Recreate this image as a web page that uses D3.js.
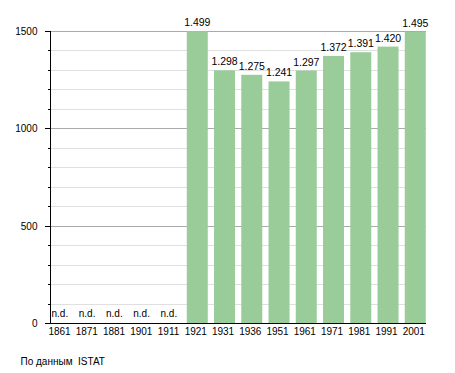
<!DOCTYPE html>
<html>
<head>
<meta charset="utf-8">
<script src="https://cdn.jsdelivr.net/npm/d3@7"></script>
<style>
  body { margin: 0; background: #fff; }
  text { font-family: "Liberation Sans", Arial, sans-serif; font-size: 10px; fill: #000; }
</style>
</head>
<body>
<script>
// Years on the x axis
const years = ["1861", "1871", "1881", "1901", "1911", "1921", "1931",
               "1936", "1951", "1961", "1971", "1981", "1991", "2001"];
// Population (null = n.d.)
const population = [null, null, null, null, null, 1499, 1298,
                    1275, 1241, 1297, 1372, 1391, 1420, 1495];
const majorTicks = [0, 500, 1000, 1500];
const minorTicks = d3.range(0, 1501, 100);
const sourceNote = "По данным  ISTAT";

const width = 455, height = 373;
const plotLeft = 50, plotRight = 426, plotTop = 31, plotBottom = 323;

const svg = d3.select("body").append("svg")
  .attr("width", width)
  .attr("height", height);

const y = d3.scaleLinear().domain([0, 1500]).range([plotBottom, plotTop]);
const x = d3.scaleBand().domain(years)
  .range([47.4, 428.9])
  .paddingInner(0.23)
  .paddingOuter(0.115);

const fmt = v => d3.format(",")(v).replace(/,/g, ".");

// gridlines
svg.append("g").selectAll("line")
  .data(minorTicks.filter(v => v > 0))
  .enter().append("line")
  .attr("x1", plotLeft).attr("x2", plotRight)
  .attr("y1", d => Math.round(y(d)) + 0.5)
  .attr("y2", d => Math.round(y(d)) + 0.5)
  .attr("stroke", d => d % 500 === 0 ? "#aaa" : "#e0e0e0");

// bars
const rows = years.map((yr, i) => ({ year: yr, value: population[i] }));
svg.append("g").selectAll("rect")
  .data(rows.filter(d => d.value !== null))
  .enter().append("rect")
  .attr("x", d => x(d.year))
  .attr("width", x.bandwidth())
  .attr("y", d => y(d.value))
  .attr("height", d => y(0) - y(d.value))
  .attr("fill", "#99cc99");

// value labels
svg.append("g").selectAll("text")
  .data(rows)
  .enter().append("text")
  .attr("x", d => d.value === null ? x(d.year) + 1 : x(d.year) + x.bandwidth() / 2)
  .attr("y", d => d.value === null ? plotBottom - 6 : y(d.value) - 5)
  .attr("text-anchor", d => d.value === null ? "start" : "middle")
  .style("font-size", d => d.value === null ? "10px" : "10.5px")
  .text(d => d.value === null ? "n.d." : fmt(d.value));

// y axis ticks
const ax = svg.append("g");
ax.selectAll("line.tick")
  .data(minorTicks)
  .enter().append("line")
  .attr("x1", d => d % 500 === 0 ? 45 : 48).attr("x2", plotLeft)
  .attr("y1", d => Math.round(y(d)) + 0.5)
  .attr("y2", d => Math.round(y(d)) + 0.5)
  .attr("stroke", "#000");
ax.selectAll("text")
  .data(majorTicks)
  .enter().append("text")
  .attr("x", 37.5)
  .attr("y", d => y(d) + 4)
  .attr("text-anchor", "end")
  .text(d => d);

// axis lines
ax.append("line")
  .attr("x1", plotLeft + 0.5).attr("x2", plotLeft + 0.5)
  .attr("y1", plotTop).attr("y2", plotBottom + 1)
  .attr("stroke", "#000");
ax.append("line")
  .attr("x1", plotLeft).attr("x2", plotRight)
  .attr("y1", plotBottom + 0.5).attr("y2", plotBottom + 0.5)
  .attr("stroke", "#000");

// x labels
svg.append("g").selectAll("text")
  .data(years)
  .enter().append("text")
  .attr("x", d => x(d) + x.bandwidth() / 2 - 1.5)
  .attr("y", 334.5)
  .attr("text-anchor", "middle")
  .text(d => d);

svg.append("text")
  .attr("x", 20.5)
  .attr("y", 365)
  .style("white-space", "pre")
  .text(sourceNote);
</script>
</body>
</html>
